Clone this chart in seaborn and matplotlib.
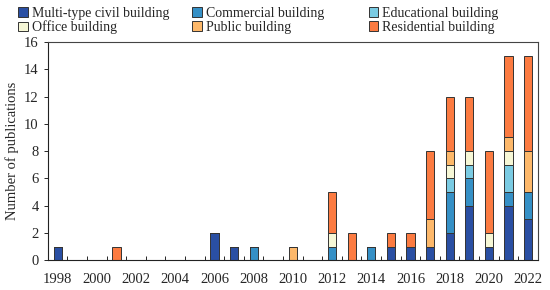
import matplotlib
matplotlib.use("Agg")
import matplotlib.pyplot as plt
from matplotlib.patches import Patch
import seaborn as sns
import pandas as pd

# Data
years = list(range(1998, 2023))
types = ["Multi-type civil building", "Commercial building", "Educational building",
         "Office building", "Public building", "Residential building"]
multi = [1, 0, 0, 0, 0, 0, 0, 0, 2, 1, 0, 0, 0, 0, 0, 0, 0, 1, 1, 1, 2, 4, 1, 4, 3]
commercial = [0, 0, 0, 0, 0, 0, 0, 0, 0, 0, 1, 0, 0, 0, 1, 0, 1, 0, 0, 0, 3, 2, 0, 1, 2]
educational = [0, 0, 0, 0, 0, 0, 0, 0, 0, 0, 0, 0, 0, 0, 0, 0, 0, 0, 0, 0, 1, 1, 0, 2, 0]
office = [0, 0, 0, 0, 0, 0, 0, 0, 0, 0, 0, 0, 0, 0, 1, 0, 0, 0, 0, 0, 1, 1, 1, 1, 0]
public = [0, 0, 0, 0, 0, 0, 0, 0, 0, 0, 0, 0, 1, 0, 0, 0, 0, 0, 0, 2, 1, 0, 0, 1, 3]
residential = [0, 0, 0, 1, 0, 0, 0, 0, 0, 0, 0, 0, 0, 0, 3, 2, 0, 1, 1, 5, 4, 4, 6, 6, 7]
colors = ["#2a4fa3", "#3590c6", "#7acbe3", "#f6f7d6", "#fdb86a", "#fc7b41"]

series = [multi, commercial, educational, office, public, residential]
rows = []
for t, vals in zip(types, series):
    for y, v in zip(years, vals):
        rows.append({"year": y, "type": t, "count": v})
df = pd.DataFrame(rows)

sns.set_style("ticks")
plt.rcParams["font.family"] = ["Liberation Serif", "DejaVu Serif"]
plt.rcParams["font.size"] = 10

fig = plt.figure(figsize=(5.5, 2.9), dpi=100)
ax = fig.add_axes([0.087, 0.103, 0.891, 0.752])

palette = dict(zip(types, colors))
# seaborn stacks the first hue level on top, so reverse the order
sns.histplot(data=df, x="year", weights="count", hue="type",
             hue_order=types[::-1], palette=palette, multiple="stack",
             discrete=True, shrink=0.42, alpha=1, edgecolor="#333333",
             linewidth=0.7, legend=False, ax=ax)

ax.set_xlim(1997.5, 2022.5)
ax.set_ylim(0, 16)
ax.set_yticks(range(0, 17, 2))
ax.set_xticks(range(1998, 2023, 2))
ax.set_xticks([y + 0.5 for y in range(1997, 2022)], minor=True)
ax.tick_params(axis="x", which="major", length=0, pad=9, labelsize=10.5)
ax.tick_params(axis="x", which="minor", direction="in", length=3, width=0.7)
ax.tick_params(axis="y", direction="out", length=3, width=0.7, labelsize=10.5)
ax.set_xlabel("")
ax.set_ylabel("Number of publications", fontsize=10.5)
for s in ax.spines.values():
    s.set_visible(True)
    s.set_linewidth(0.8)
    s.set_color("#444444")
ax.spines["bottom"].set_color("#222222")
ax.spines["left"].set_color("#222222")

# legend in three columns across the top
xs = [0.018, 0.334, 0.655]
for i, x in enumerate(xs):
    handles = [Patch(facecolor=colors[j], edgecolor="#333333", linewidth=0.7)
               for j in (i, i + 3)]
    labels = [types[i], types[i + 3]]
    fig.legend(handles, labels, loc="upper left", bbox_to_anchor=(x, 1.005),
               frameon=False, handlelength=0.7, handleheight=0.7,
               handletextpad=0.3, labelspacing=0.05, fontsize=10,
               borderaxespad=0.2)

fig.savefig("out.png", dpi=100)
